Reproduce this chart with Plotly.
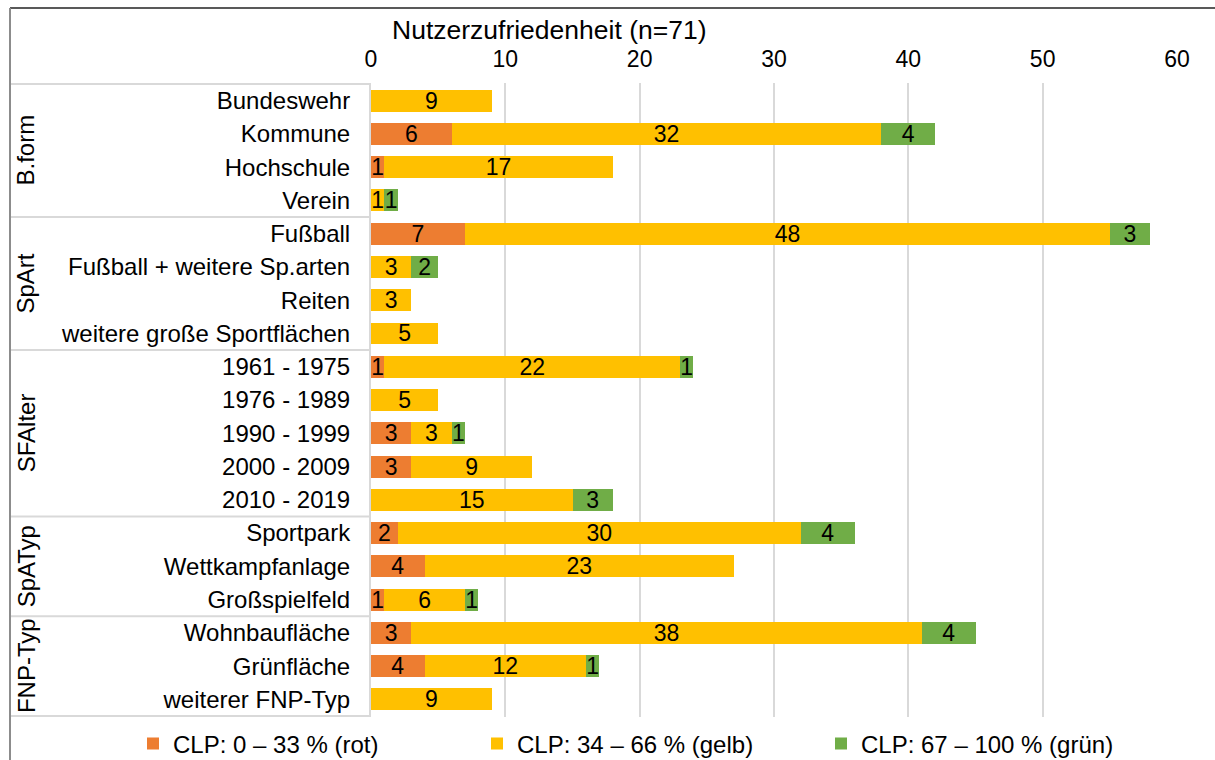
import plotly.graph_objects as go

# Categories (top to bottom) and their grouping
categories = [
    "Bundeswehr", "Kommune", "Hochschule", "Verein",
    "Fußball", "Fußball + weitere Sp.arten", "Reiten", "weitere große Sportflächen",
    "1961 - 1975", "1976 - 1989", "1990 - 1999", "2000 - 2009", "2010 - 2019",
    "Sportpark", "Wettkampfanlage", "Großspielfeld",
    "Wohnbaufläche", "Grünfläche", "weiterer FNP-Typ",
]
groups = ["B.form", "SpArt", "SFAlter", "SpATyp", "FNP-Typ"]
group_sizes = [4, 4, 5, 3, 3]

# Counts per CLP class
rot = [0, 6, 1, 0, 7, 0, 0, 0, 1, 0, 3, 3, 0, 2, 4, 1, 3, 4, 0]
gelb = [9, 32, 17, 1, 48, 3, 3, 5, 22, 5, 3, 9, 15, 30, 23, 6, 38, 12, 9]
gruen = [0, 4, 0, 1, 3, 2, 0, 0, 1, 0, 1, 0, 3, 4, 0, 1, 4, 1, 0]

series = [
    ("CLP: 0 – 33 % (rot)", rot, "#ED7D31"),
    ("CLP: 34 – 66 % (gelb)", gelb, "#FFC000"),
    ("CLP: 67 – 100 % (grün)", gruen, "#70AD47"),
]

x_title = "Nutzerzufriedenheit (n=71)"
x_ticks = [0, 10, 20, 30, 40, 50, 60]

FONT = "Liberation Sans, Arial, sans-serif"

fig = go.Figure()
for name, vals, color in series:
    fig.add_trace(go.Bar(
        y=categories,
        x=vals,
        name=name,
        orientation="h",
        marker=dict(color=color, line=dict(width=0)),
        text=[str(v) if v else "" for v in vals],
        textposition="inside",
        insidetextanchor="middle",
        textangle=0,
        constraintext="none",
        textfont=dict(color="#000000", size=23, family=FONT),
    ))

# Plot-area geometry in pixels (used to convert to paper coordinates)
W, H = 1215, 760
L, R, T, B = 371, 38, 83, 43
pw = W - L - R
ph = H - T - B


def px_to_paper_x(px):
    return (px - L) / pw


def px_to_paper_y(py):
    return (H - B - py) / ph


shapes = []
annotations = []

# Group separators and rotated group labels in the category table
start = 0
boundaries = [-0.5]
for g, n in zip(groups, group_sizes):
    center = start + (n - 1) / 2
    annotations.append(dict(
        x=px_to_paper_x(26), xref="paper", y=center, yref="y",
        text=g, textangle=-90, showarrow=False,
        xanchor="center", yanchor="middle",
        font=dict(size=24, color="#000000", family=FONT),
    ))
    start += n
    boundaries.append(start - 0.5)

for b in boundaries:
    shapes.append(dict(
        type="line", xref="paper", yref="y",
        x0=px_to_paper_x(10), x1=0, y0=b, y1=b,
        line=dict(color="#D9D9D9", width=2),
    ))

# Outer chart border (top and left)
shapes.append(dict(
    type="line", xref="paper", yref="paper",
    x0=px_to_paper_x(10), x1=px_to_paper_x(W + 5),
    y0=px_to_paper_y(8), y1=px_to_paper_y(8),
    line=dict(color="#595959", width=2),
))
shapes.append(dict(
    type="line", xref="paper", yref="paper",
    x0=px_to_paper_x(10), x1=px_to_paper_x(10),
    y0=px_to_paper_y(8), y1=px_to_paper_y(H + 5),
    line=dict(color="#8C8C8C", width=2),
))

# Axis title
annotations.append(dict(
    x=px_to_paper_x(549), xref="paper", y=px_to_paper_y(30), yref="paper",
    text=x_title, showarrow=False, xanchor="center", yanchor="middle",
    font=dict(size=26.5, color="#000000", family=FONT),
))

fig.update_layout(
    width=W, height=H,
    margin=dict(l=L, r=R, t=T, b=B, autoexpand=False),
    barmode="stack",
    bargap=0.34,
    plot_bgcolor="#FFFFFF",
    paper_bgcolor="#FFFFFF",
    font=dict(family=FONT, size=23, color="#000000"),
    xaxis=dict(
        side="top", range=[0, 60], tickvals=x_ticks,
        showgrid=True, gridcolor="#D9D9D9", gridwidth=2,
        zeroline=False, showline=False, ticks="",
        ticklabelstandoff=10,
        tickfont=dict(size=23, color="#000000", family=FONT),
        fixedrange=True,
    ),
    yaxis=dict(
        type="category", categoryorder="array", categoryarray=categories,
        autorange="reversed",
        showgrid=False, zeroline=False,
        showline=True, linecolor="#D9D9D9", linewidth=2,
        ticks="", ticklabelstandoff=14,
        tickfont=dict(size=24, color="#000000", family=FONT),
        fixedrange=True,
    ),
    legend=dict(
        orientation="h", traceorder="normal",
        x=px_to_paper_x(133), xanchor="left",
        y=px_to_paper_y(744), yanchor="middle",
        entrywidth=299, itemwidth=30,
        font=dict(size=24, color="#000000", family=FONT),
        bgcolor="rgba(0,0,0,0)",
    ),
    shapes=shapes,
    annotations=annotations,
    showlegend=True,
)

fig.write_html("out.html")
